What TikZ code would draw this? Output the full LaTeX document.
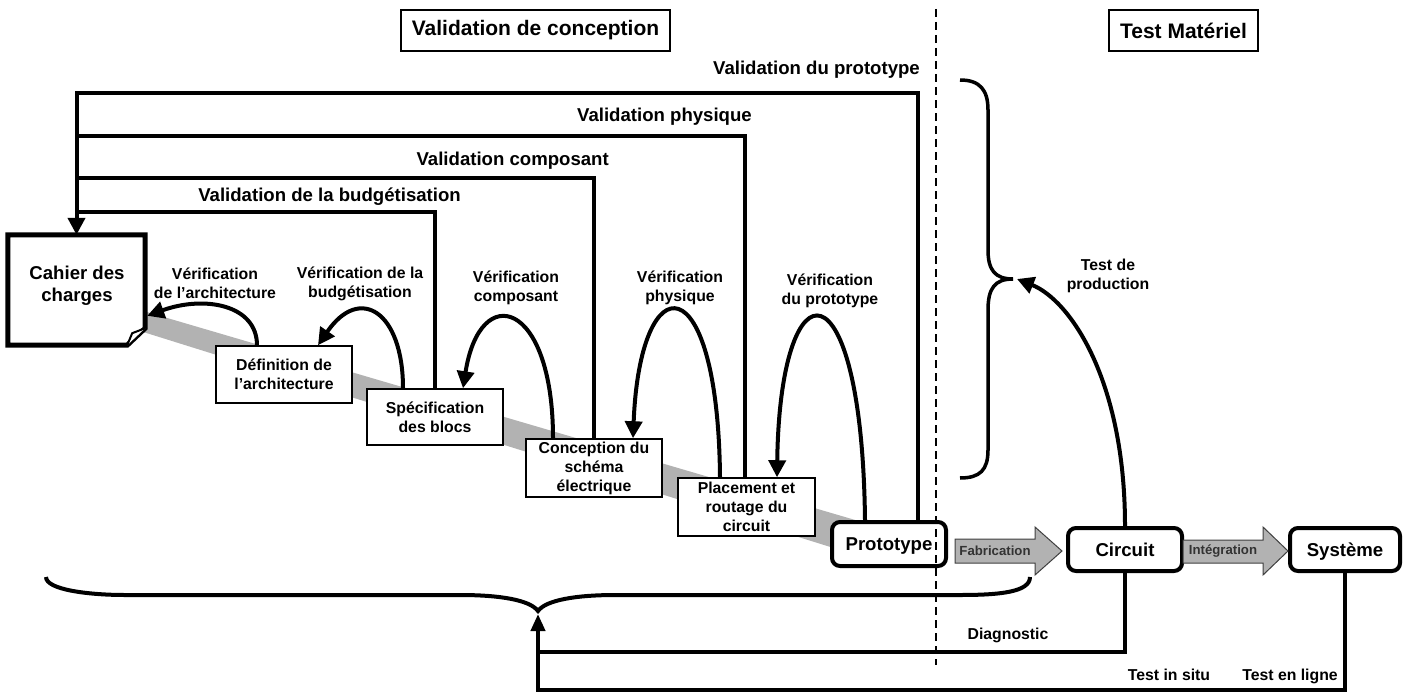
\documentclass[tikz,border=0pt]{standalone}
\usepackage{fontspec}
\setmainfont{Liberation Sans}
\usetikzlibrary{arrows.meta,calc}
\begin{document}
\begin{tikzpicture}[x=1pt,y=-1pt,
 ln/.style={line width=4pt},
 arr/.style={-{Triangle[length=17pt,width=17pt]}},
 big/.style={font=\fontsize{18.6}{22}\selectfont\bfseries, inner sep=0pt},
 med/.style={font=\fontsize{15.8}{19}\selectfont\bfseries, inner sep=0pt, align=center},
 sml/.style={font=\fontsize{13.2}{15}\selectfont\bfseries, inner sep=0pt, text=black!80},
 ttl/.style={font=\fontsize{21}{25}\selectfont\bfseries, inner sep=0pt},
 sbox/.style={med, draw, line width=1.5pt, fill=white},
 rbox/.style={big, draw, line width=4pt, fill=white, rounded corners=8pt, text depth=0pt},
 tbox/.style={ttl, draw, line width=2pt},
 fat/.style={fill=black!30, draw=black!75, line width=1pt, line join=miter},
]
\useasboundingbox (0,0) rectangle (1408,693);

% grey band
\fill[black!30] (140,310) -- (862,522) -- (862,550) -- (840,550) -- (140,331) -- cycle;

% titles
\node[tbox, minimum width=269pt, minimum height=41pt] (t1) at (535.5,30.5) {Validation de conception};
\node[tbox, minimum width=149pt, minimum height=41pt] (t2) at (1183.5,30.5) {Test Matériel};

% Cahier des charges
\node[big, minimum width=137pt, minimum height=110pt] (cahier) at (76.5,290) {};
\draw[line width=5pt, fill=white, line join=miter]
  (cahier.north west) -- (cahier.north east) -- ($(cahier.south east)+(0,-17)$)
  -- ($(cahier.south east)+(-18,0)$) -- (cahier.south west) -- cycle;
\draw[line width=2pt, fill=white, line join=miter]
  ($(cahier.south east)+(-18,0)$) -- ($(cahier.south east)+(-13,-12)$) -- ($(cahier.south east)+(0,-17)$);
\node[big, align=center] (cahiertxt) at (77,286) {Cahier des\\charges};

% design step boxes
\node[sbox, minimum width=136pt, minimum height=57pt] (def) at (284,374.5) {Définition de\\l’architecture};
\node[sbox, minimum width=136pt, minimum height=56pt] (spec) at (435,417) {Spécification\\des blocs};
\node[sbox, minimum width=136pt, minimum height=58pt] (conc) at (594,468) {Conception du\\schéma\\électrique};
\node[sbox, minimum width=137pt, minimum height=58pt] (plac) at (746.5,507) {Placement et\\routage du\\circuit};

% rounded boxes
\node[rbox, minimum width=114pt, minimum height=44pt] (proto) at (889,544) {Prototype};
\node[rbox, minimum width=114pt, minimum height=43pt] (circ) at (1125,549.5) {Circuit};
\node[rbox, minimum width=110pt, minimum height=43pt] (sys) at (1345,549.5) {Système};

% fat arrows
\draw[fat] (955,539) -- (1035,539) -- (1035,527) -- (1062,551) -- (1035,575) -- (1035,563) -- (955,563) -- cycle;
\node[sml] (fab) at (995,551) {Fabrication};
\draw[fat] (1183,540) -- (1263,540) -- (1263,527) -- (1288,551) -- (1263,575) -- (1263,563) -- (1183,563) -- cycle;
\node[sml] (integ) at (1223,551) {Intégration};

% validation loops
\draw[ln, arr, line join=miter] ([xshift=29pt]proto.north) |- (cahier.north |- 0,93) -- (cahier.north);
\draw[ln, line join=miter] ([xshift=-1.5pt]plac.north) |- (cahier.north |- 0,136);
\draw[ln, line join=miter] (conc.north) |- (cahier.north |- 0,178);
\draw[ln, line join=miter] (spec.north) |- (cahier.north |- 0,212);

\node[big, anchor=east] (lvp) at (920,70) {Validation du prototype};
\node[big, anchor=east] (lvph) at (752,117) {Validation physique};
\node[big, anchor=east] (lvc) at (609,161) {Validation composant};
\node[big, anchor=east] (lvb) at (461,197) {Validation de la budgétisation};

% verification arcs
\draw[ln, arr] ([xshift=-27pt]def.north) .. controls (257,305) and (205,295) .. ($(cahier.north east)+(2,81)$);
\draw[ln, arr] ([xshift=-32pt]spec.north) .. controls (403,312) and (360,284) .. ([xshift=34pt]def.north);
\draw[ln, arr] ([xshift=-41pt]conc.north) .. controls (553,300) and (480,280) .. ([xshift=28pt]spec.north);
\draw[ln, arr] ([xshift=-26.5pt]plac.north) .. controls (718,262) and (640,262) .. ([xshift=39pt]conc.north);
\draw[ln, arr] ([xshift=-24pt]proto.north) .. controls (862,258) and (780,258) .. ([xshift=30.5pt]plac.north);

\node[med] (v1) at (215,283) {Vérification\\de l’architecture};
\node[med] (v2) at (360,284) {Vérification de la\\budgétisation};
\node[med] (v3) at (516,288) {Vérification\\composant};
\node[med] (v4) at (680,288) {Vérification\\physique};
\node[med] (v5) at (830,291) {Vérification\\du prototype};

% right brace and production test
\coordinate (rtip) at (1013,279);
\draw[line width=3.5pt] (960,80) .. controls (980,80) and (988,90) .. (988,110) -- (988,250)
  .. controls (988,270) and (995,279) .. (rtip)
  .. controls (995,279) and (988,288) .. (988,310) -- (988,450)
  .. controls (988,470) and (980,478) .. (960,478);
\draw[ln, arr] (circ.north) .. controls (1125,380) and (1070,300) .. ([xshift=4pt]rtip);
\node[med] (tprod) at (1108,276) {Test de\\production};

% bottom brace and feedback
\coordinate (btip) at (538,611);
\draw[ln] (46,577) .. controls (46,590) and (90,595) .. (125,595) -- (460,595)
  .. controls (500,595) and (530,600) .. (btip)
  .. controls (546,600) and (576,595) .. (616,595) -- (960,595)
  .. controls (1000,595) and (1030,592) .. (1030,577);
\draw[ln, -{Triangle[length=17pt,width=14pt]}, line join=miter] (sys.south) |- (btip |- 0,690) -- ([yshift=-3pt]btip);
\draw[ln, line join=miter] (circ.south) |- (btip |- 0,652);

\node[med, anchor=base] (diag) at (1008,639) {Diagnostic};
\node[med, anchor=base] (tis) at (1169,680) {Test in situ};
\node[med, anchor=base] (tel) at (1290,680) {Test en ligne};

% separator
\coordinate (dtop) at (935.5,9);
\coordinate (dbot) at (935.5,665);
\draw[line width=2pt, dash pattern=on 8pt off 5pt] (dtop) -- (dbot);
\end{tikzpicture}
\end{document}
